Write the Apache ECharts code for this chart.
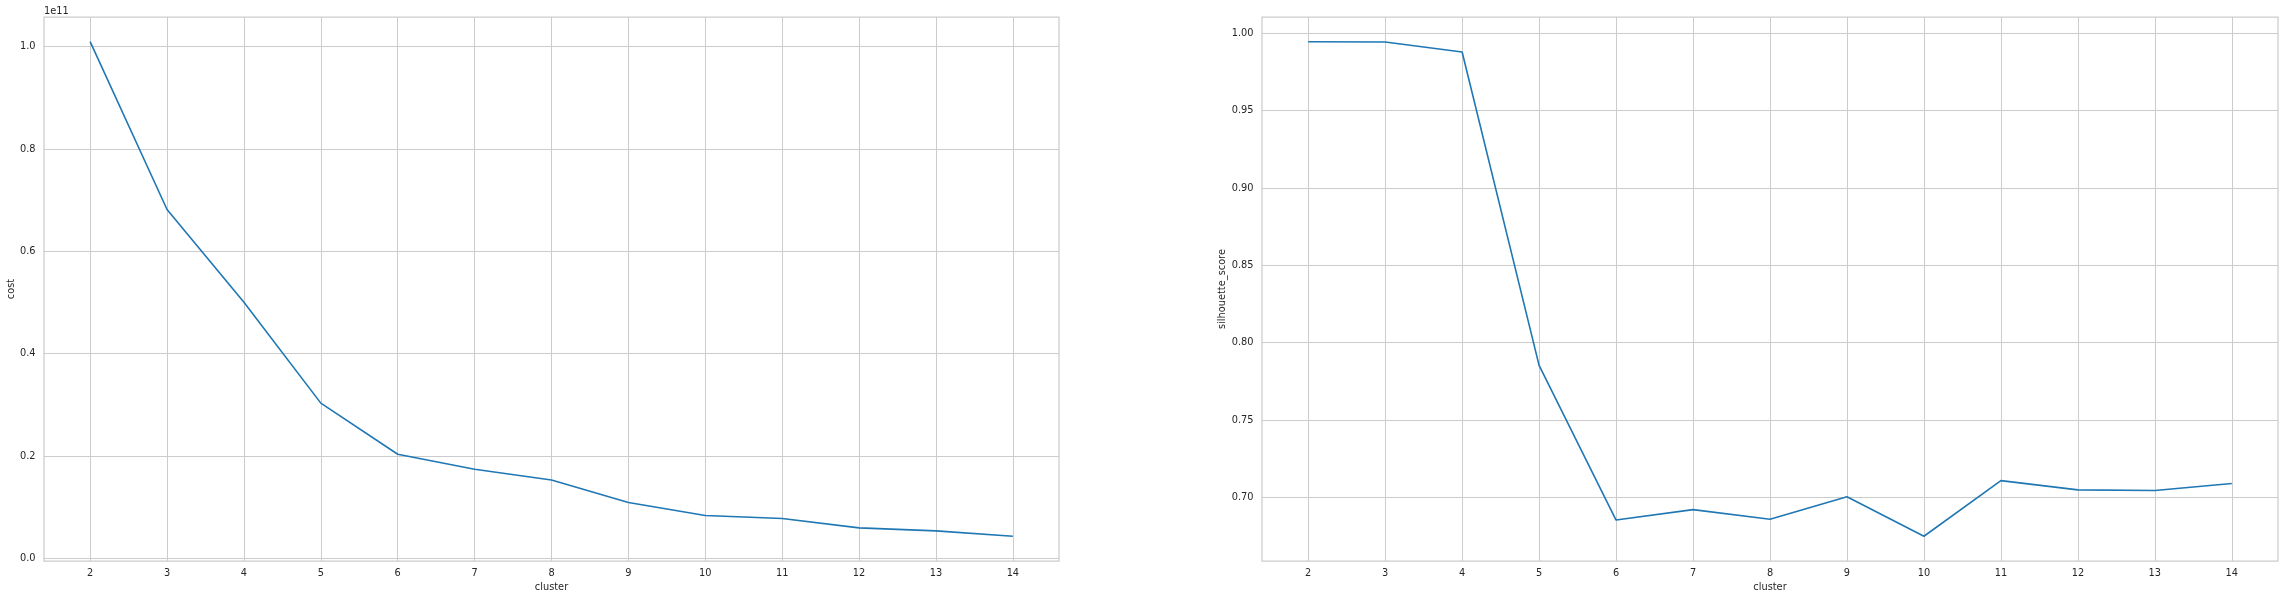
<!DOCTYPE html>
<html>
<head>
<meta charset="utf-8">
<script src="https://cdn.jsdelivr.net/npm/echarts@6/dist/echarts.min.js"></script>
<style>
html,body{margin:0;padding:0;background:#fff;}
#chart{width:2283px;height:599px;}
</style>
</head>
<body>
<div id="chart"></div>
<script>
// ---- data ----
var clusters = [2, 3, 4, 5, 6, 7, 8, 9, 10, 11, 12, 13, 14];
var cost = [1.0098e11, 0.6818e11, 0.5006e11, 0.3033e11, 0.2033e11, 0.1739e11, 0.1530e11, 0.1090e11, 0.0837e11, 0.0778e11, 0.0595e11, 0.0536e11, 0.0430e11];
var silhouette = [0.9946, 0.9944, 0.9880, 0.7853, 0.6853, 0.6920, 0.6858, 0.7004, 0.6748, 0.7108, 0.7048, 0.7044, 0.7089];
var costTickValues = [0, 0.2e11, 0.4e11, 0.6e11, 0.8e11, 1.0e11];
var costTicks = ['0.0', '0.2', '0.4', '0.6', '0.8', '1.0'];
var silTickValues = [0.70, 0.75, 0.80, 0.85, 0.90, 0.95, 1.00];
var silTicks = ['0.70', '0.75', '0.80', '0.85', '0.90', '0.95', '1.00'];
var xTickValues = [2, 3, 4, 5, 6, 7, 8, 9, 10, 11, 12, 13, 14];
var xTicks = ['2','3','4','5','6','7','8','9','10','11','12','13','14'];

function pairs(xs, ys){ return xs.map(function(x,i){ return [x, ys[i]]; }); }
function lookup(vals, labels){
  return function(v){
    for (var i = 0; i < vals.length; i++) {
      if (Math.abs(vals[i] - v) <= Math.abs(vals[vals.length-1] - vals[0]) * 1e-6) return labels[i];
    }
    return '';
  };
}

var FONT = 'DejaVu Sans';
var TXT = '#262626';
var GRIDC = '#cccccc';
var FS = 9.8;

function xAxisCfg(idx){
  return {
    type: 'value', gridIndex: idx, min: 1.4, max: 14.6,
    name: 'cluster', nameLocation: 'middle', nameGap: 21,
    nameTextStyle: {fontFamily: FONT, fontSize: FS, color: TXT},
    axisLine: {show: false},
    axisTick: {show: false, customValues: xTickValues},
    axisLabel: {fontFamily: FONT, fontSize: FS, color: TXT, margin: 7,
      customValues: xTickValues, formatter: lookup(xTickValues, xTicks)},
    splitLine: {show: true, lineStyle: {color: GRIDC, width: 1}}
  };
}

var option = {
  backgroundColor: '#ffffff',
  animation: false,
  title: {
    text: '1e11', left: 44, top: 6, padding: 0,
    textStyle: {fontFamily: FONT, fontSize: FS, color: TXT, fontWeight: 'normal'}
  },
  grid: [
    {left: 44, width: 1015, top: 17, bottom: 38, show: true, borderColor: GRIDC, borderWidth: 1.25, backgroundColor: 'transparent'},
    {left: 1262, width: 1016, top: 17, bottom: 38, show: true, borderColor: GRIDC, borderWidth: 1.25, backgroundColor: 'transparent'}
  ],
  xAxis: [xAxisCfg(0), xAxisCfg(1)],
  yAxis: [
    {
      type: 'value', gridIndex: 0, min: -0.0053e11, max: 1.058e11,
      name: 'cost', nameLocation: 'middle', nameGap: 26,
      nameTextStyle: {fontFamily: FONT, fontSize: FS, color: TXT},
      axisLine: {show: false},
      axisTick: {show: false, customValues: costTickValues},
      axisLabel: {fontFamily: FONT, fontSize: FS, color: TXT, margin: 8.5,
        customValues: costTickValues, formatter: lookup(costTickValues, costTicks)},
      splitLine: {show: true, lineStyle: {color: GRIDC, width: 1}}
    },
    {
      type: 'value', gridIndex: 1, min: 0.6588, max: 1.0106,
      name: 'silhouette_score', nameLocation: 'middle', nameGap: 34,
      nameTextStyle: {fontFamily: FONT, fontSize: FS, color: TXT},
      axisLine: {show: false},
      axisTick: {show: false, customValues: silTickValues},
      axisLabel: {fontFamily: FONT, fontSize: FS, color: TXT, margin: 8.5,
        customValues: silTickValues, formatter: lookup(silTickValues, silTicks)},
      splitLine: {show: true, lineStyle: {color: GRIDC, width: 1}}
    }
  ],
  series: [
    {type: 'line', xAxisIndex: 0, yAxisIndex: 0, data: pairs(clusters, cost), showSymbol: false, symbol: 'none',
      lineStyle: {color: '#1f77b4', width: 1.6}, itemStyle: {color: '#1f77b4'}},
    {type: 'line', xAxisIndex: 1, yAxisIndex: 1, data: pairs(clusters, silhouette), showSymbol: false, symbol: 'none',
      lineStyle: {color: '#1f77b4', width: 1.6}, itemStyle: {color: '#1f77b4'}}
  ]
};

var chart = echarts.init(document.getElementById('chart'), null, {renderer: 'canvas'});
chart.setOption(option);
</script>
</body>
</html>
